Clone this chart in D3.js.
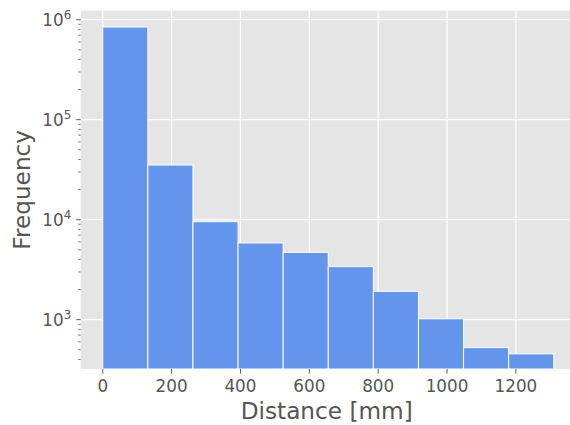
<!DOCTYPE html>
<html>
<head>
<meta charset="utf-8">
<script src="https://cdn.jsdelivr.net/npm/d3@7"></script>
<style>
  body { margin: 0; background: #fff; }
  text { font-family: "DejaVu Sans", sans-serif; fill: #555555; }
</style>
</head>
<body>
<div id="chart"></div>
<script>
var binEdges = [0, 131, 262, 393, 524, 655, 786, 917, 1048, 1179, 1310];
var counts = [845000, 35200, 9550, 5850, 4710, 3390, 1920, 1020, 525, 455];
var xTicks = [0, 200, 400, 600, 800, 1000, 1200];
var yTicks = [3, 4, 5, 6];   // exponents of 10

var svgWidth = 570;
var svgHeight = 425;

var plot = { left: 80.7, top: 10.7, right: 572.7, bottom: 369 };

var svg = d3.select("#chart")
  .append("svg")
  .attr("width", svgWidth)
  .attr("height", svgHeight);

var xScale = d3.scaleLinear()
  .domain([-64, 1365])
  .range([plot.left, plot.right]);

var yScale = d3.scaleLog()
  .domain([321, 1.23e6])
  .range([plot.bottom, plot.top]);

// background
svg.append("rect")
  .attr("x", plot.left)
  .attr("y", plot.top)
  .attr("width", plot.right - plot.left)
  .attr("height", plot.bottom - plot.top)
  .attr("fill", "#E5E5E5");

// grid
var grid = svg.append("g");
grid.selectAll(".gx")
  .data(xTicks)
  .enter().append("line")
  .attr("x1", d => xScale(d)).attr("x2", d => xScale(d))
  .attr("y1", plot.top).attr("y2", plot.bottom)
  .attr("stroke", "#fff").attr("stroke-width", 1.2);
grid.selectAll(".gy")
  .data(yTicks)
  .enter().append("line")
  .attr("x1", plot.left).attr("x2", plot.right)
  .attr("y1", d => yScale(Math.pow(10, d))).attr("y2", d => yScale(Math.pow(10, d)))
  .attr("stroke", "#fff").attr("stroke-width", 1.2);

// bars
var bins = counts.map((c, i) => ({ x0: binEdges[i], x1: binEdges[i + 1], n: c }));
svg.append("g").selectAll("rect")
  .data(bins)
  .enter().append("rect")
  .attr("x", d => xScale(d.x0))
  .attr("width", d => xScale(d.x1) - xScale(d.x0))
  .attr("y", d => yScale(d.n))
  .attr("height", d => plot.bottom - yScale(d.n))
  .attr("fill", "#6495ED")
  .attr("stroke", "#fff")
  .attr("stroke-width", 1);

// x axis ticks
var xAxis = svg.append("g");
xTicks.forEach(function(t) {
  var x = xScale(t);
  xAxis.append("line")
    .attr("x1", x).attr("x2", x)
    .attr("y1", plot.bottom).attr("y2", plot.bottom + 4.5)
    .attr("stroke", "#555").attr("stroke-width", 1);
  xAxis.append("text")
    .attr("x", x).attr("y", plot.bottom + 23.3)
    .attr("text-anchor", "middle")
    .style("font-size", "16.8px")
    .text(t);
});

// y axis: minor ticks
var yAxis = svg.append("g");
var minor = [];
for (var e = 2; e <= 6; e++) {
  for (var m = 2; m <= 9; m++) {
    var v = m * Math.pow(10, e);
    if (v >= yScale.domain()[0] && v <= yScale.domain()[1]) minor.push(v);
  }
}
yAxis.selectAll(".minor")
  .data(minor)
  .enter().append("line")
  .attr("x1", plot.left - 2.5).attr("x2", plot.left)
  .attr("y1", d => yScale(d)).attr("y2", d => yScale(d))
  .attr("stroke", "#555").attr("stroke-width", 0.8);

yTicks.forEach(function(p) {
  var y = yScale(Math.pow(10, p));
  yAxis.append("line")
    .attr("x1", plot.left - 4.5).attr("x2", plot.left)
    .attr("y1", y).attr("y2", y)
    .attr("stroke", "#555").attr("stroke-width", 1);
  var t = yAxis.append("text")
    .attr("x", plot.left - 9.5).attr("y", y + 6.5)
    .attr("text-anchor", "end")
    .style("font-size", "16.8px");
  t.append("tspan").text("10");
  t.append("tspan")
    .attr("dy", -7)
    .style("font-size", "11.8px")
    .text(p);
});

// axis labels
svg.append("text")
  .attr("x", (plot.left + plot.right) / 2)
  .attr("y", 419.3)
  .attr("text-anchor", "middle")
  .style("font-size", "23.2px")
  .text("Distance [mm]");

svg.append("text")
  .attr("transform", `translate(29.5, ${(plot.top + plot.bottom) / 2}) rotate(-90)`)
  .attr("text-anchor", "middle")
  .style("font-size", "23.2px")
  .text("Frequency");
</script>
</body>
</html>
